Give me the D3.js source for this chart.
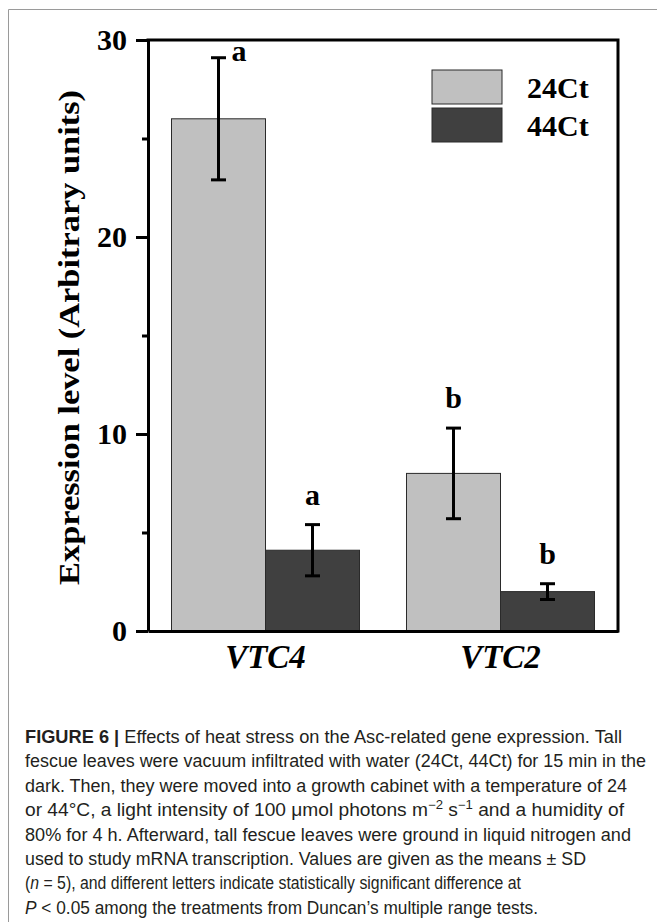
<!DOCTYPE html>
<html>
<head>
<meta charset="utf-8">
<script src="https://cdn.jsdelivr.net/npm/d3@7"></script>
<style>
  body { margin: 0; background: #fff; }
  svg { display: block; }
</style>
</head>
<body>
<svg id="chart" width="657" height="922"></svg>
<script>
// ---- data ----
const genes = ["VTC4", "VTC2"];
const treatments = ["24Ct", "44Ct"];
const mean24Ct = [26.0, 8.0];
const sd24Ct = [3.1, 2.3];
const mean44Ct = [4.1, 2.0];
const sd44Ct = [1.3, 0.4];
const letters24Ct = ["a", "b"];
const letters44Ct = ["a", "b"];
const yTicks = [0, 5, 10, 15, 20, 25, 30];
const yTickLabels = ["0", "", "10", "", "20", "", "30"];
const yTitle = "Expression level (Arbitrary units)";

// caption lines: [text, style] segments
const captionLines = [
  [["FIGURE 6 | ", "b"], ["Effects of heat stress on the Asc-related gene expression. Tall", ""]],
  [["fescue leaves were vacuum infiltrated with water (24Ct, 44Ct) for 15 min in the", ""]],
  [["dark. Then, they were moved into a growth cabinet with a temperature of 24", ""]],
  [["or 44°C, a light intensity of 100 \u03BCmol photons m", ""], ["\u22122", "sup"], [" s", "base"], ["\u22121", "sup"], [" and a humidity of", "base"]],
  [["80% for 4 h. Afterward, tall fescue leaves were ground in liquid nitrogen and", ""]],
  [["used to study mRNA transcription. Values are given as the means \u00B1 SD", ""]],
  [["(", ""], ["n", "i"], [" = 5), and different letters indicate statistically significant difference at", ""]],
  [["P", "i"], [" < 0.05 among the treatments from Duncan\u2019s multiple range tests.", ""]]
];
const captionLineEnds = [622, 646, 627, 624, 631, 586, 521, 538];

// ---- layout ----
const svg = d3.select("#chart");
const plotL = 148, plotR = 618, plotT = 40, plotB = 631;
const serif = "'Liberation Serif', 'Times New Roman', serif";
const fs = 30;
const colors = d3.scaleOrdinal().domain(treatments).range(["#c0c0c0", "#404040"]);

const rows = genes.map((g, i) => ({
  gene: g,
  bars: [
    { t: treatments[0], m: mean24Ct[i], sd: sd24Ct[i], letter: letters24Ct[i] },
    { t: treatments[1], m: mean44Ct[i], sd: sd44Ct[i], letter: letters44Ct[i] }
  ]
}));

const x = d3.scaleBand().domain(genes).range([plotL, plotR]).paddingInner(0.2).paddingOuter(0.1);
const xs = d3.scaleBand().domain(treatments).range([0, x.bandwidth()]);
const y = d3.scaleLinear().domain([0, 30]).range([plotB, plotT]);

// figure panel frame (top and left edges)
svg.append("path")
  .attr("d", "M8.5,922 V9.5 H657")
  .attr("fill", "none").attr("stroke", "#9a9a9a").attr("stroke-width", 1);

// bars
const groups = svg.append("g").selectAll("g").data(rows).join("g")
  .attr("transform", d => `translate(${x(d.gene)},0)`);

groups.selectAll("rect").data(d => d.bars).join("rect")
  .attr("x", d => xs(d.t))
  .attr("y", d => y(d.m))
  .attr("width", xs.bandwidth())
  .attr("height", d => y(0) - y(d.m))
  .attr("fill", d => colors(d.t))
  .attr("stroke", "#2a2a2a").attr("stroke-width", 1);

// error bars
const capW = 15;
const cxOf = d => xs(d.t) + xs.bandwidth() / 2;
const eb = groups.selectAll("g.err").data(d => d.bars).join("g").attr("class", "err")
  .attr("stroke", "#000").attr("stroke-width", 3);
eb.append("line")
  .attr("x1", cxOf).attr("x2", cxOf)
  .attr("y1", d => y(d.m - d.sd)).attr("y2", d => y(d.m + d.sd));
eb.append("line")
  .attr("x1", d => cxOf(d) - capW / 2).attr("x2", d => cxOf(d) + capW / 2)
  .attr("y1", d => y(d.m + d.sd)).attr("y2", d => y(d.m + d.sd));
eb.append("line")
  .attr("x1", d => cxOf(d) - capW / 2).attr("x2", d => cxOf(d) + capW / 2)
  .attr("y1", d => y(d.m - d.sd)).attr("y2", d => y(d.m - d.sd));

// significance letters (placed beside the error bar when too close to the frame)
groups.selectAll("text.sig").data(d => d.bars).join("text").attr("class", "sig")
  .each(function (d) {
    const cx = cxOf(d);
    const yt = y(d.m + d.sd);
    const crowded = yt - 20 < plotT + 22;
    d3.select(this)
      .attr("x", crowded ? cx + 13 : cx)
      .attr("y", crowded ? yt + 3 : yt - 20)
      .attr("text-anchor", crowded ? "start" : "middle");
  })
  .attr("font-family", serif).attr("font-weight", "bold").attr("font-size", fs)
  .attr("fill", "#000")
  .text(d => d.letter);

// y axis
const yAxis = svg.append("g").attr("transform", `translate(${plotL},0)`)
  .call(d3.axisLeft(y).tickValues(yTicks).tickFormat((d, i) => yTickLabels[i])
    .tickSize(12).tickSizeOuter(0).tickPadding(9));
yAxis.select(".domain").attr("stroke-width", 3);
yAxis.selectAll(".tick line").attr("stroke-width", 3)
  .attr("x2", (d, i) => yTickLabels[i] === "" ? -6 : -12);
yAxis.selectAll(".tick text")
  .attr("font-family", serif).attr("font-weight", "bold").attr("font-size", fs).attr("fill", "#000");

// x axis
const xAxis = svg.append("g").attr("transform", `translate(0,${plotB})`)
  .call(d3.axisBottom(x).tickSize(0).tickPadding(14));
xAxis.select(".domain").attr("stroke-width", 3);
xAxis.selectAll(".tick text")
  .attr("font-family", serif).attr("font-weight", "bold").attr("font-style", "italic")
  .attr("font-size", 33).attr("fill", "#000");

// top and right frame
svg.append("path")
  .attr("d", `M${plotL},${plotT} H${plotR} V${plotB}`)
  .attr("fill", "none").attr("stroke", "#000").attr("stroke-width", 3)
  .attr("stroke-linecap", "square");

// y title
svg.append("text")
  .attr("transform", `translate(79,${(plotT + plotB) / 2 + 2}) rotate(-90)`)
  .attr("text-anchor", "middle")
  .attr("font-family", serif).attr("font-weight", "bold").attr("font-size", fs)
  .attr("textLength", 495).attr("lengthAdjust", "spacingAndGlyphs")
  .attr("fill", "#000")
  .text(yTitle);

// legend
const legend = svg.append("g").attr("transform", "translate(432,70)");
const li = legend.selectAll("g").data(treatments).join("g")
  .attr("transform", (d, i) => `translate(0,${i * 38})`);
li.append("rect").attr("width", 70).attr("height", 34)
  .attr("fill", d => colors(d)).attr("stroke", "#2a2a2a").attr("stroke-width", 1);
li.append("text").attr("x", 95).attr("y", 28)
  .attr("font-family", serif).attr("font-weight", "bold").attr("font-size", fs).attr("fill", "#000")
  .text(d => d);

// caption
const cap = svg.append("g")
  .attr("font-family", "'Liberation Sans Narrow', 'Arial Narrow', 'Liberation Sans', Arial, sans-serif")
  .attr("font-size", 17.5).attr("fill", "#231f20");
captionLines.forEach((segs, i) => {
  const t = cap.append("text").attr("x", 25).attr("y", 743 + i * 24.4)
    .attr("textLength", captionLineEnds[i] - 25).attr("lengthAdjust", "spacingAndGlyphs");
  segs.forEach(([s, st]) => {
    const ts = t.append("tspan").text(s);
    if (st === "b") ts.attr("font-weight", "bold");
    if (st === "i") ts.attr("font-style", "italic");
    if (st === "sup") ts.attr("font-size", 12).attr("dy", -7);
    if (st === "base") ts.attr("dy", 7);
  });
});
</script>
</body>
</html>
